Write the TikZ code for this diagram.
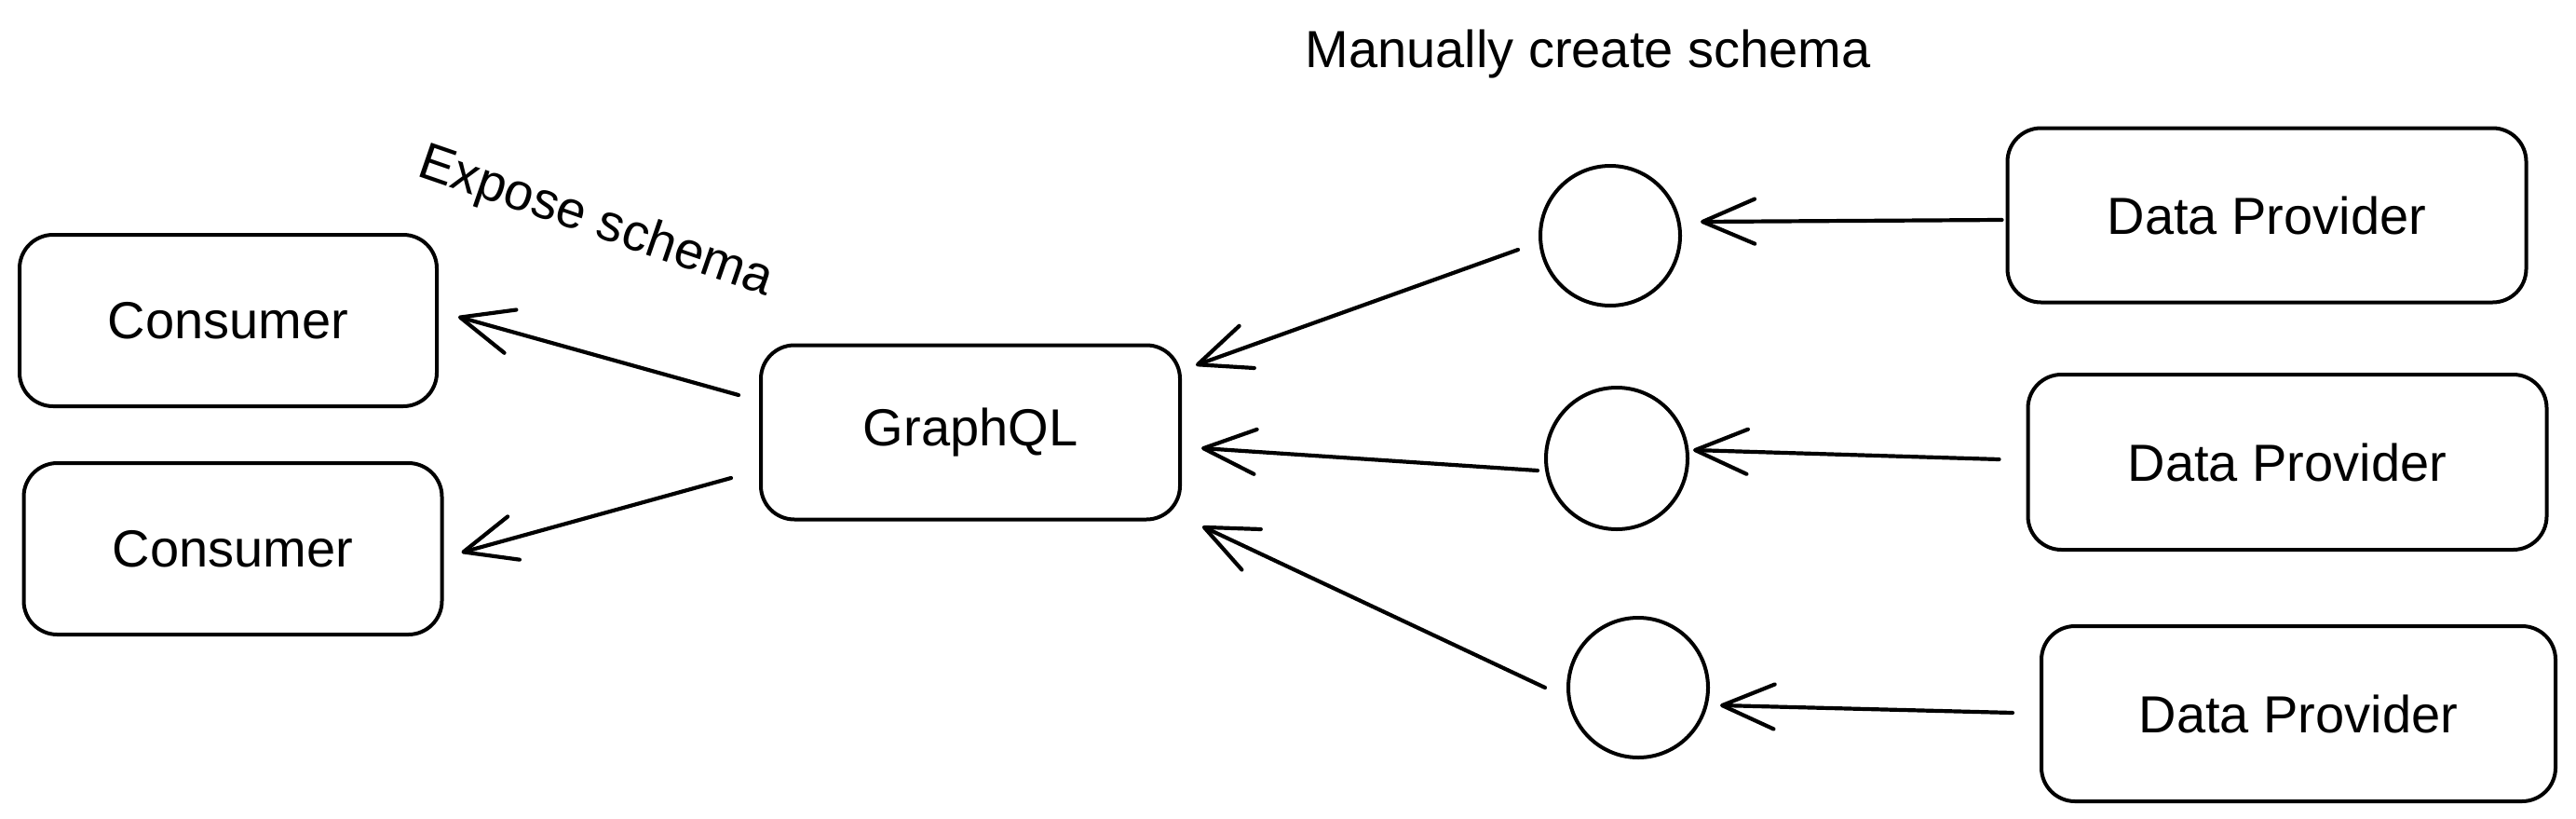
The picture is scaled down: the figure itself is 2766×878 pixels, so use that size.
\documentclass[tikz,border=0pt]{standalone}
\usepackage{fontspec}
\setmainfont{Liberation Sans}
\usetikzlibrary{arrows.meta}
\begin{document}
\begin{tikzpicture}[x=0.5pt,y=-0.5pt,
  txt/.style={font=\fontsize{28}{32}\selectfont},
  box/.style={draw=black, line width=2pt, rounded corners=18pt, inner sep=0pt, txt},
  hub/.style={draw=black, line width=2pt, circle, inner sep=0pt},
  arr/.style={line width=2.1pt, line cap=round, -{Straight Barb[length=28pt,width=24pt,round]}}]
\useasboundingbox (0,0) rectangle (2766,878);
% boxes
\node[box, minimum width=224pt, minimum height=92pt] (con1) at (245,344) {Consumer};
\node[box, minimum width=224.5pt, minimum height=92pt] (con2) at (250,589) {Consumer};
\node[box, minimum width=225pt, minimum height=93.5pt] (g) at (1042,464) {GraphQL};
\node[box, minimum width=278.5pt, minimum height=93.5pt] (dp1) at (2434,231) {Data Provider};
\node[box, minimum width=278.5pt, minimum height=94pt] (dp2) at (2456,496) {Data Provider};
\node[box, minimum width=276pt, minimum height=94pt] (dp3) at (2468,766) {Data Provider};
% hubs
\node[hub, minimum size=75pt] (c1) at (1729,253) {};
\node[hub, minimum size=76pt] (c2) at (1736,492) {};
\node[hub, minimum size=75pt] (c3) at (1759,738) {};
% labels
\node[txt, anchor=base] (manual) at (1705,72) {Manually create schema};
\node[txt, anchor=base, rotate=-19] (expose) at (635,253) {Expose schema};
% arrows
\draw[arr] ([shift={(-4,5)}]dp1.west) -- ([shift={(20,-15)}]c1.east);
\draw[arr] ([shift={(-22,15)}]c1.west) -- ([shift={(15,-72)}]g.east);
\draw[arr] ([shift={(-29,-3)}]dp2.west) -- ([shift={(4,-9)}]c2.east);
\draw[arr] ([shift={(-7,13)}]c2.west) -- ([shift={(21,17)}]g.east);
\draw[arr] ([shift={(-29,-1)}]dp3.west) -- ([shift={(11,19)}]c3.east);
\draw[arr] ([shift={(-23,0)}]c3.west) -- ([shift={(22,101)}]g.east);
\draw[arr] ([shift={(-22,-40)}]g.west) -- ([shift={(21,-4)}]con1.east);
\draw[arr] ([shift={(-30,49)}]g.west) -- ([shift={(19,4)}]con2.east);
\end{tikzpicture}
\end{document}
